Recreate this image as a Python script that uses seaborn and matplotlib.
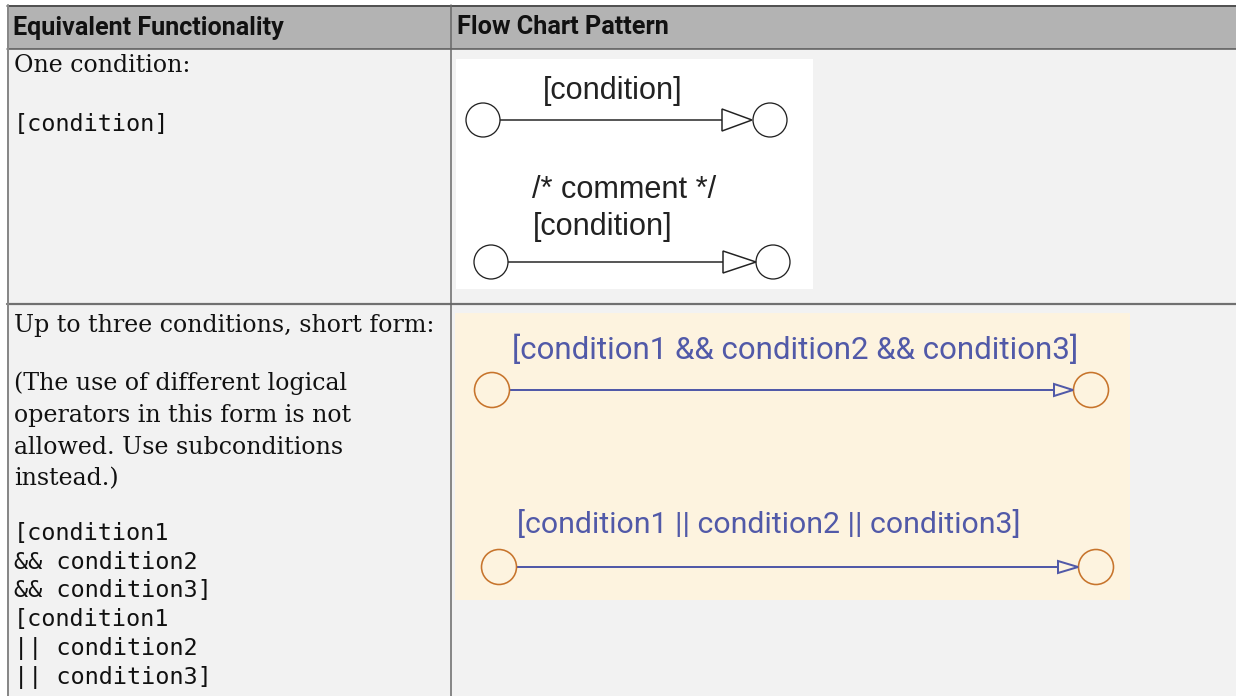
import matplotlib
matplotlib.use("Agg")
import matplotlib.pyplot as plt
import matplotlib.patches as mpatches
import seaborn as sns

# ---- content ----
header_labels = ["Equivalent Functionality", "Flow Chart Pattern"]
row1_desc = ["One condition:"]
row1_code = ["[condition]"]
row1_diagram_labels = ["[condition]", "/* comment */", "[condition]"]
row2_desc = ["Up to three conditions, short form:",
             "(The use of different logical",
             "operators in this form is not",
             "allowed. Use subconditions",
             "instead.)"]
row2_code = ["[condition1", "&& condition2", "&& condition3]",
             "[condition1", "|| condition2", "|| condition3]"]
row2_diagram_labels = ["[condition1 && condition2 && condition3]",
                       "[condition1 || condition2 || condition3]"]

sns.set_theme(style="white")
plt.rcParams["font.family"] = ["DejaVu Sans"]

W, H = 1236, 696
fig = plt.figure(figsize=(W / 100, H / 100), dpi=100)
ax = fig.add_axes([0, 0, 1, 1])
ax.set_xlim(0, W)
ax.set_ylim(H, 0)
ax.axis("off")
fig.patch.set_facecolor("white")
renderer = fig.canvas.get_renderer()

PX = 0.72  # points per pixel at dpi 100
VA = "center_baseline"
DY = -3


def fit_text(x, y, s, width, **kw):
    t = ax.text(x, y + DY, s, fontsize=10, **kw)
    w = t.get_window_extent(renderer=renderer).width
    t.set_fontsize(10 * width / w)
    return t


def size_for(s, width, **kw):
    t = ax.text(0, 0, s, fontsize=10, **kw)
    w = t.get_window_extent(renderer=renderer).width
    t.remove()
    return 10 * width / w


# ---- table frame ----
ax.add_patch(mpatches.Rectangle((7, 5), W - 7, 44, fc="#b3b3b3", ec="none"))
ax.add_patch(mpatches.Rectangle((7, 49), W - 7, H - 49, fc="#f2f2f2", ec="none"))
ax.plot([7, W], [5.5, 5.5], color="#333333", lw=1.5 * PX)
ax.plot([7, W], [49, 49], color="#555555", lw=1.5 * PX)
ax.plot([7, W], [303.5, 303.5], color="#707070", lw=2.2 * PX)
ax.plot([7.5, 7.5], [5, H], color="#888888", lw=2.0 * PX)
ax.plot([451, 451], [5, H], color="#666666", lw=1.5 * PX)

# header text
hdr_font = ["Roboto", "DejaVu Sans"]
fit_text(13, 28, header_labels[0], 272, family=hdr_font, weight="bold",
         va=VA, ha="left", color="#111111")
fit_text(457, 28, header_labels[1], 212, family=hdr_font, weight="bold",
         va=VA, ha="left", color="#111111")

# ---- left column text ----
serif = ["DejaVu Serif"]
mono = ["DejaVu Sans Mono"]
serif_size = size_for(row2_desc[0], 423, family=serif)
mono_size = size_for(row2_code[2], 198, family=mono)

ax.text(14, 66 + DY, row1_desc[0], family=serif, fontsize=serif_size,
        va=VA, ha="left", color="#111111")
ax.text(14, 125 + DY, row1_code[0], family=mono, fontsize=mono_size,
        va=VA, ha="left", color="#111111")

desc_y = [326, 384, 416, 448, 479]
for s, y in zip(row2_desc, desc_y):
    ax.text(14, y + DY, s, family=serif, fontsize=serif_size,
            va=VA, ha="left", color="#111111")
code_y = [534, 563, 591, 620, 649, 678]
for s, y in zip(row2_code, code_y):
    ax.text(14, y + DY, s, family=mono, fontsize=mono_size,
            va=VA, ha="left", color="#111111")

# ---- diagram 1 (white) ----
ax.add_patch(mpatches.Rectangle((456, 59), 357, 230, fc="white", ec="none"))
sans = ["Liberation Sans", "DejaVu Sans"]
fit_text(613, 90, row1_diagram_labels[0], 140, family=sans, ha="center",
         va=VA, color="#222222")
fit_text(532, 189, row1_diagram_labels[1], 185, family=sans, ha="left",
         va=VA, color="#222222")
fit_text(533, 226, row1_diagram_labels[2], 140, family=sans, ha="left",
         va=VA, color="#222222")


def transition(x_left, x_right, y, r, line_col, circ_col, arrow_base, arrow_tip,
               arrow_half, lw_line, lw_circ, fc):
    for cx in (x_left, x_right):
        ax.add_patch(mpatches.Circle((cx, y), r, fc=fc, ec=circ_col,
                                     lw=lw_circ * PX, zorder=3))
    sns.lineplot(x=[x_left + r, arrow_base], y=[y, y], ax=ax, color=line_col,
                 lw=lw_line * PX, legend=False, zorder=2)
    ax.add_patch(mpatches.Polygon([(arrow_base, y - arrow_half),
                                   (arrow_base, y + arrow_half),
                                   (arrow_tip, y)], closed=True, fc=fc,
                                  ec=line_col, lw=lw_line * PX, zorder=3))


transition(483, 770, 120, 17, "#222222", "#222222", 722, 752, 11, 1.5, 1.3, "white")
transition(491, 773, 262, 17, "#222222", "#222222", 723, 756, 11, 1.5, 1.3, "white")

# ---- diagram 2 (beige) ----
beige = "#fdf3df"
blue = "#5159a8"
orange = "#c7742c"
ax.add_patch(mpatches.Rectangle((455, 313), 675, 287, fc=beige, ec="none"))
narrow = ["Roboto", "DejaVu Sans"]
fit_text(512, 350, row2_diagram_labels[0], 568, family=narrow, ha="left",
         va=VA, color=blue)
fit_text(517, 524, row2_diagram_labels[1], 503, family=narrow, ha="left",
         va=VA, color=blue)

transition(492, 1091, 390, 17.5, blue, orange, 1054, 1073, 6, 2.0, 1.6, beige)
transition(499, 1096, 567, 17.5, blue, orange, 1058, 1078, 6, 2.0, 1.6, beige)

ax.set_xlim(0, W)
ax.set_ylim(H, 0)
ax.axis("off")
fig.savefig("out.png", dpi=100, facecolor="white")
